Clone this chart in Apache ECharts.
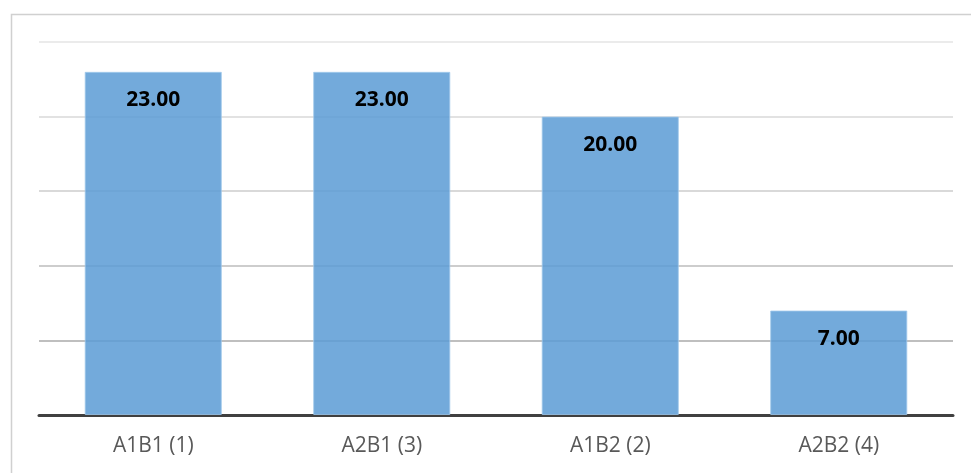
<!DOCTYPE html>
<html><head><meta charset="utf-8">
<script src="https://cdn.jsdelivr.net/npm/echarts@6/dist/echarts.min.js"></script>
<style>html,body{margin:0;padding:0;background:#fff}#c{width:971px;height:473px}</style>
</head><body><div id="c"></div>
<script>
var categories = ['A1B1 (1)', 'A2B1 (3)', 'A1B2 (2)', 'A2B2 (4)'];
var values = [23, 23, 20, 7];
var yMin = 0, yMax = 25, yStep = 5;

var chart = echarts.init(document.getElementById('c'));
chart.setOption({
  animation: false,
  backgroundColor: '#fff',
  graphic: [{
    type: 'rect', left: 9, top: 12, z: -10,
    shape: { width: 1000, height: 500 },
    style: { fill: 'none', stroke: '#d0d0d0', lineWidth: 1.5 }
  }],
  grid: { left: 39, right: 18, top: 42, bottom: 58 },
  xAxis: {
    type: 'category', data: categories,
    axisLine: { lineStyle: { color: '#404040', width: 3 } },
    axisTick: { show: false },
    axisLabel: { color: '#595959', fontSize: 21, fontFamily: 'Open Sans', margin: 21 }
  },
  yAxis: {
    type: 'value', min: yMin, max: yMax, interval: yStep,
    axisLabel: { show: false }, axisLine: { show: false }, axisTick: { show: false },
    splitLine: { lineStyle: { color: ['#bbbbbb', '#aaaaaa', '#bdbdbd', '#cccccc', '#d8d8d8', '#e4e4e4'], width: 1.5 } }
  },
  series: [{
    type: 'bar', data: values, barWidth: '60%',
    itemStyle: { color: 'rgba(91,155,213,0.85)', borderColor: 'rgba(160,200,235,0.8)', borderWidth: 1 },
    label: {
      show: true, position: 'insideTop', distance: 18,
      formatter: function (p) { return p.value.toFixed(2); },
      color: '#000', fontWeight: 'bold', fontSize: 21, fontFamily: 'Open Sans'
    }
  }]
});
</script></body></html>
